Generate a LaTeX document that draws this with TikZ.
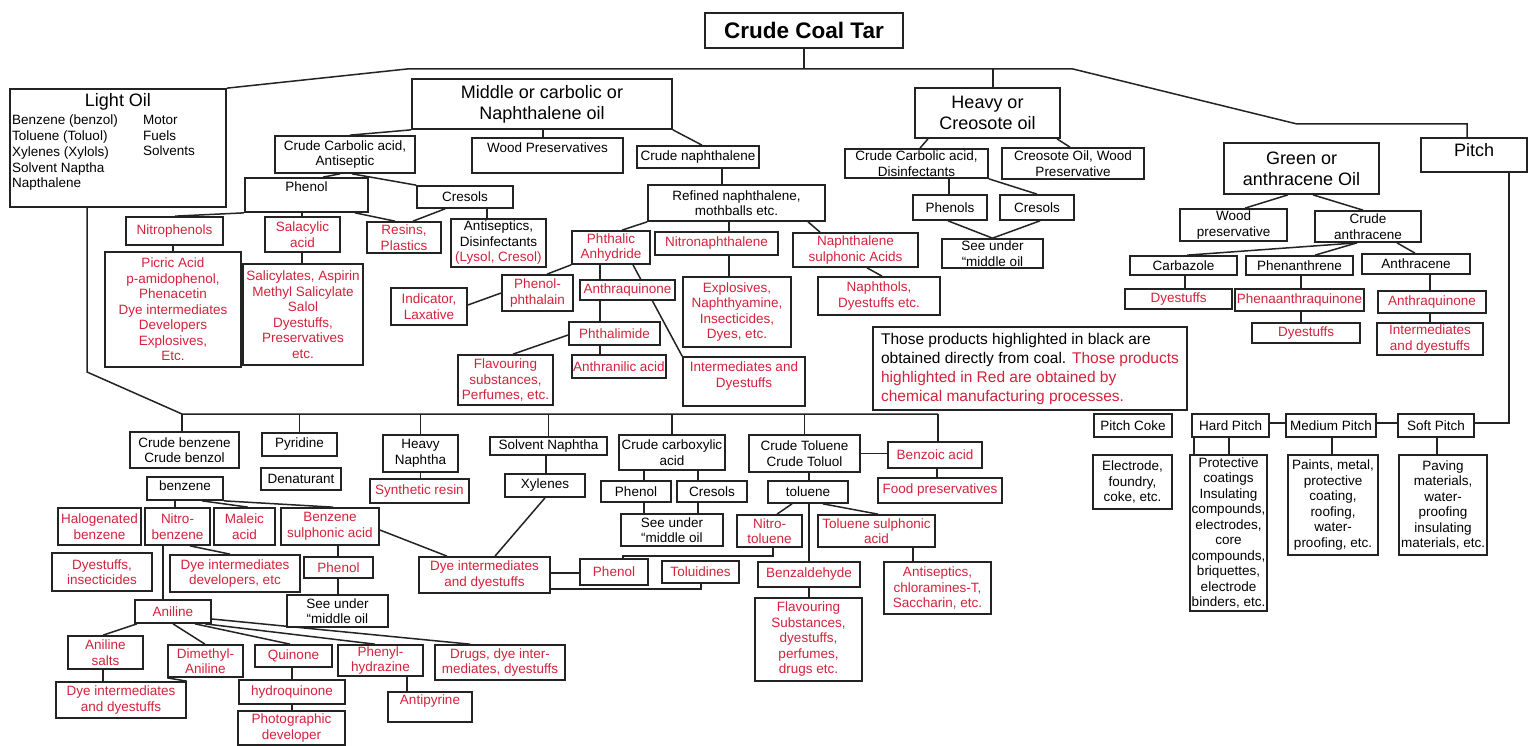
\documentclass[tikz,border=0pt]{standalone}
\usepackage{fontspec}
\setmainfont{Liberation Sans}
\usetikzlibrary{backgrounds}
\definecolor{mred}{RGB}{210,35,60}
\definecolor{ink}{RGB}{35,35,35}
\newcommand\fsz[2]{\fontsize{#1}{#2}\selectfont}
\newcommand\tarbox[7][]{\node[box,#1,minimum width={(#5-#3)*1pt},minimum height={(#6-#4)*1pt}] (#2) at ({(#3+#5)/2},{(#4+#6)/2}) {#7};}
\begin{document}
\begin{tikzpicture}[x=1pt,y=-1pt,
  box/.style={draw=ink,line width=1.7pt,fill=white,inner sep=0.5pt,align=center,font=\fsz{13.5}{15.5}},
  rbox/.style={text=mred},
  big/.style={font=\fsz{18}{21}},
  conn/.style={draw=ink,line width=1.5pt},
  lbl/.style={inner sep=0pt,align=left,font=\fsz{13.5}{15.75}}]
\useasboundingbox (0,0) rectangle (1528,746);

% ---------- top level ----------
\tarbox[font=\fsz{22.5}{26}\bfseries]{cct}{705}{13}{903}{48}{Crude Coal Tar}
\tarbox{light}{10}{89}{226}{207}{}
\node[inner sep=0pt,font=\fsz{18}{21}] (lighttitle) at (118,102) {Light Oil};
\node[lbl,anchor=north west] (lightlist) at (12,115) {Benzene (benzol)\\Toluene (Toluol)\\Xylenes (Xylols)\\Solvent Naptha\\Napthalene};
\node[lbl,anchor=north west] (lightuse) at (143,115) {Motor\\Fuels\\Solvents};
\tarbox[big]{mid}{412}{79}{672}{129}{Middle or carbolic or\\Naphthalene oil}
\tarbox[big]{heavy}{915}{88}{1060}{138}{Heavy or\\Creosote oil}
\tarbox[big]{green}{1224}{143}{1379}{194}{Green or\\anthracene Oil}
\tarbox[big]{pitch}{1421}{138}{1527}{172}{\raisebox{10pt}{Pitch}}

% ---------- middle oil ----------
\tarbox{cca1}{275}{136}{415}{173}{Crude Carbolic acid,\\Antiseptic}
\tarbox{woodp}{472}{138}{623}{173}{\raisebox{15pt}{Wood Preservatives}}
\tarbox{cnaph}{637}{146}{759}{168}{Crude naphthalene}
\tarbox{refn}{648}{185}{825}{221}{Refined naphthalene,\\mothballs etc.}
\tarbox{phenol1}{245}{178}{368}{212}{\raisebox{16pt}{Phenol}}
\tarbox{cresols1}{417}{186}{513}{208}{Cresols}
\tarbox[rbox]{nitroph}{126}{217}{223}{245}{Nitrophenols}
\tarbox[rbox]{salac}{265}{217}{340}{252}{Salacylic\\acid}
\tarbox[rbox]{resins}{367}{222}{441}{253}{Resins,\\Plastics}
\tarbox{antis1}{451}{219}{546}{267}{Antiseptics,\\Disinfectants\\{\color{mred}(Lysol, Cresol)}}
\tarbox[rbox]{picric}{105}{252}{241}{367}{Picric Acid\\p-amidophenol,\\Phenacetin\\Dye intermediates\\Developers\\Explosives,\\Etc.}
\tarbox[rbox]{salicy}{243}{264}{363}{365}{Salicylates, Aspirin\\Methyl Salicylate\\Salol\\Dyestuffs,\\Preservatives\\etc.}
\tarbox[rbox]{indic}{391}{288}{467}{325}{Indicator,\\Laxative}
\tarbox[rbox]{phenph}{502}{275}{573}{311}{Phenol-\\phthalain}
\tarbox[rbox]{phthal}{572}{231}{650}{264}{Phthalic\\Anhydride}
\tarbox[rbox]{nitron}{655}{232}{778}{255}{Nitronaphthalene}
\tarbox[rbox]{naphs}{793}{233}{918}{267}{Naphthalene\\sulphonic Acids}
\tarbox[rbox]{naphth}{818}{277}{940}{315}{Naphthols,\\Dyestuffs etc.}
\tarbox[rbox]{explo}{683}{277}{791}{347}{Explosives,\\Naphthyamine,\\Insecticides,\\Dyes, etc.}
\tarbox[rbox]{anthq1}{580}{280}{675}{300}{Anthraquinone}
\tarbox[rbox]{phthim}{569}{322}{660}{345}{Phthalimide}
\tarbox[rbox]{flav1}{458}{355}{553}{405}{Flavouring\\substances,\\Perfumes, etc.}
\tarbox[rbox]{anthr}{572}{355}{666}{378}{Anthranilic acid}
\tarbox[rbox]{inter1}{683}{357}{805}{406}{Intermediates and\\Dyestuffs\\[-2pt]\mbox{}}

% ---------- heavy oil ----------
\tarbox{cca2}{845}{149}{988}{178}{Crude Carbolic acid,\\Disinfectants}
\tarbox{creo}{1002}{148}{1144}{179}{Creosote Oil, Wood\\Preservative}
\tarbox{phenols2}{913}{195}{987}{220}{Phenols}
\tarbox{cresols2}{1000}{195}{1074}{220}{Cresols}
\tarbox{see1}{942}{239}{1043}{268}{See under\\“middle oil}

% ---------- green oil ----------
\tarbox{woodp2}{1180}{209}{1287}{241}{Wood\\preservative}
\tarbox{cranth}{1315}{211}{1421}{242}{Crude\\anthracene}
\tarbox{carb}{1130}{256}{1237}{275}{Carbazole}
\tarbox{phen}{1246}{256}{1353}{275}{Phenanthrene}
\tarbox{anthc}{1362}{254}{1470}{274}{Anthracene}
\tarbox[rbox]{dye1}{1125}{289}{1232}{309}{Dyestuffs}
\tarbox[rbox]{phenq}{1235}{289}{1364}{311}{Phenaanthraquinone}
\tarbox[rbox]{anthq2}{1378}{291}{1486}{313}{Anthraquinone}
\tarbox[rbox]{dye2}{1252}{323}{1360}{343}{Dyestuffs}
\tarbox[rbox]{inter2}{1377}{323}{1483}{355}{Intermediates\\and dyestuffs}
\tarbox[align=left,font=\fsz{15.5}{19}]{note}{873}{327}{1187}{410}{Those products highlighted in black are\\obtained directly from coal. {\color{mred}Those products}\\{\color{mred}highlighted in Red are obtained by}\\{\color{mred}chemical manufacturing processes.}}

% ---------- pitch ----------
\tarbox{pcoke}{1094}{414}{1172}{437}{Pitch Coke}
\tarbox{hard}{1192}{414}{1269}{437}{Hard Pitch}
\tarbox{medium}{1286}{414}{1376}{437}{Medium Pitch}
\tarbox{soft}{1398}{414}{1474}{437}{Soft Pitch}
\tarbox{elec}{1093}{455}{1172}{509}{Electrode,\\foundry,\\coke, etc.}
\tarbox{prot}{1190}{455}{1267}{611}{Protective\\coatings\\Insulating\\compounds,\\electrodes,\\core\\compounds,\\briquettes,\\electrode\\binders, etc.}
\tarbox{paints}{1288}{455}{1378}{555}{Paints, metal,\\protective\\coating,\\roofing,\\water-\\proofing, etc.}
\tarbox{paving}{1399}{455}{1487}{555}{Paving\\materials,\\water-\\proofing\\insulating\\materials, etc.}

% ---------- light oil products ----------
\tarbox{cbenz}{130}{432}{239}{468}{Crude benzene\\Crude benzol}
\tarbox{pyr}{262}{433}{337}{456}{Pyridine}
\tarbox{denat}{261}{468}{341}{490}{Denaturant}
\tarbox{hnaph}{383}{435}{458}{472}{Heavy\\Naphtha}
\tarbox[rbox]{synr}{370}{479}{469}{503}{Synthetic resin}
\tarbox{benz}{147}{477}{223}{500}{\raisebox{5pt}{benzene}}
\tarbox[rbox]{halo}{58}{508}{141}{545}{Halogenated\\benzene}
\tarbox[rbox]{nitrob}{145}{508}{210}{545}{Nitro-\\benzene}
\tarbox[rbox]{maleic}{214}{508}{275}{545}{Maleic\\acid}
\tarbox[rbox]{bsulph}{281}{508}{379}{545}{Benzene\\sulphonic acid}
\tarbox[rbox]{dyeins}{52}{553}{152}{591}{Dyestuffs,\\insecticides}
\tarbox[rbox]{dyedev}{170}{555}{300}{592}{Dye intermediates\\developers, etc}
\tarbox[rbox]{phenr1}{304}{557}{373}{578}{Phenol}
\tarbox{see3}{287}{595}{388}{627}{See under\\“middle oil}
\tarbox[rbox]{anil}{135}{600}{211}{623}{Aniline}
\tarbox[rbox]{anils}{68}{636}{143}{669}{Aniline\\salts}
\tarbox[rbox]{dimeth}{168}{645}{243}{677}{Dimethyl-\\Aniline}
\tarbox[rbox]{quin}{255}{645}{332}{667}{Quinone}
\tarbox[rbox]{phenyl}{338}{645}{423}{676}{Phenyl-\\hydrazine}
\tarbox[rbox]{drugs}{435}{645}{565}{680}{Drugs, dye inter-\\mediates, dyestuffs}
\tarbox[rbox]{dyeint3}{56}{682}{186}{718}{Dye intermediates\\and dyestuffs}
\tarbox[rbox]{hydq}{239}{680}{345}{704}{hydroquinone}
\tarbox[rbox]{photo}{238}{711}{345}{745}{Photographic\\developer}
\tarbox[rbox]{antip}{388}{692}{472}{722}{\raisebox{14pt}{Antipyrine}}
\tarbox{solvn}{490}{437}{607}{455}{Solvent Naphtha}
\tarbox{xyl}{505}{474}{585}{497}{Xylenes}
\tarbox[rbox]{dyeint2}{419}{557}{550}{593}{Dye intermediates\\and dyestuffs}
\tarbox{ccarbox}{619}{435}{725}{470}{Crude carboxylic\\acid}
\tarbox{phenol3}{601}{481}{671}{502}{Phenol}
\tarbox{cresols3}{677}{481}{747}{502}{Cresols}
\tarbox{see2}{621}{514}{723}{546}{See under\\“middle oil}
\tarbox{ctol}{749}{435}{860}{472}{Crude Toluene\\Crude Toluol}
\tarbox[rbox]{benzoic}{888}{442}{982}{468}{Benzoic acid}
\tarbox[rbox]{foodp}{878}{478}{1002}{503}{Food preservatives}
\tarbox{tol}{768}{481}{848}{503}{toluene}
\tarbox[rbox]{nitrot}{737}{515}{802}{547}{Nitro-\\toluene}
\tarbox[rbox]{tolsul}{818}{515}{935}{547}{Toluene sulphonic\\acid}
\tarbox[rbox]{benzal}{758}{562}{860}{587}{Benzaldehyde}
\tarbox[rbox]{flav2}{755}{598}{862}{681}{Flavouring\\Substances,\\dyestuffs,\\perfumes,\\drugs etc.}
\tarbox[rbox]{antis2}{884}{562}{991}{614}{Antiseptics,\\chloramines-T,\\Saccharin, etc.}
\tarbox[rbox]{phenr2}{580}{559}{648}{585}{Phenol}
\tarbox[rbox]{tolu}{662}{561}{739}{583}{Toluidines}

% ---------- connectors ----------
\begin{scope}[on background layer]
\fill[white] (0,0) rectangle (1528,746);
\coordinate (tl) at (407,69);
\coordinate (tr) at (1073,69);
\coordinate (tp1) at (1297,124);
\coordinate (tp2) at (1467,124);
\draw[conn] (light.north east) -- (tl) -- (tr) -- (tp1) -- (tp2) -- (pitch.north -| tp2);
\draw[conn] (cct.south) -- (cct.south |- tl);
\draw[conn] (heavy.north -| 993,0) -- (993,69 |- tl);
% middle oil
\draw[conn] (mid.south west) -- (cca1.north -| 350,0);
\draw[conn] (mid.south -| 543,0) -- (woodp.north -| 543,0);
\draw[conn] (mid.south east) -- (cnaph.north -| 702,0);
\draw[conn] (cnaph.south -| 722,0) -- (refn.north -| 722,0);
\draw[conn] (cca1.south -| 340,0) -- (phenol1.north -| 323,0);
\draw[conn] (cca1.south -| 352,0) -- (cresols1.north west);
\draw[conn] (phenol1.south west) -- (nitroph.north -| 175,0);
\draw[conn] (phenol1.south -| 302,0) -- (salac.north -| 302,0);
\draw[conn] (phenol1.south -| 355,0) -- (resins.north -| 395,0);
\draw[conn] (cresols1.south -| 445,0) -- (resins.north -| 413,0);
\draw[conn] (cresols1.south -| 487,0) -- (antis1.north -| 487,0);
\draw[conn] (nitroph.south -| 173,0) -- (picric.north -| 173,0);
\draw[conn] (salac.south -| 302,0) -- (salicy.north -| 302,0);
\draw[conn] (refn.south west) -- (phthal.north -| 622,0);
\draw[conn] (refn.south -| 729,0) -- (nitron.north -| 729,0);
\draw[conn] (refn.south -| 808,0) -- (naphs.north -| 820,0);
\draw[conn] (naphs.south -| 867,0) -- (naphth.north -| 882,0);
\draw[conn] (nitron.south -| 729,0) -- (explo.north -| 729,0);
\draw[conn] (phthal.south -| 600,0) -- (anthq1.north -| 600,0);
\draw[conn] (anthq1.south -| 600,0) -- (phthim.north -| 600,0);
\draw[conn] (phthim.south -| 600,0) -- (anthr.north -| 600,0);
\draw[conn] (phthal.south west) -- (phenph.north -| 547,0);
\draw[conn] (indic.east |- 0,305) -- (phenph.west |- 0,293);
\draw[conn] (phthal.south -| 633,0) -- (inter1.north west);
\draw[conn] (phthim.west |- 0,335) -- (flav1.north -| 513,0);
% heavy oil
\draw[conn] (heavy.south -| 928,0) -- (cca2.north -| 920,0);
\draw[conn] (heavy.south -| 1057,0) -- (creo.north -| 1070,0);
\draw[conn] (cca2.south -| 949,0) -- (phenols2.north -| 949,0);
\draw[conn] (cca2.south east) -- (cresols2.north -| 1037,0);
\draw[conn] (phenols2.south -| 948,0) -- (see1.north);
\draw[conn] (cresols2.south -| 1040,0) -- (see1.north);
% green oil
\draw[conn] (green.south -| 1288,0) -- (woodp2.north -| 1245,0);
\draw[conn] (green.south -| 1313,0) -- (cranth.north -| 1363,0);
\draw[conn] (cranth.south -| 1357,0) -- (carb.north -| 1187,0);
\draw[conn] (cranth.south -| 1357,0) -- (phen.north -| 1315,0);
\draw[conn] (cranth.south -| 1397,0) -- (anthc.north -| 1415,0);
\draw[conn] (carb.south -| 1185,0) -- (dye1.north -| 1185,0);
\draw[conn] (phen.south -| 1301,0) -- (phenq.north -| 1301,0);
\draw[conn] (phenq.south -| 1301,0) -- (dye2.north -| 1301,0);
\draw[conn] (anthc.south -| 1430,0) -- (anthq2.north -| 1430,0);
\draw[conn] (anthq2.south -| 1430,0) -- (inter2.north -| 1430,0);
% pitch
\coordinate (pc) at (1509,423);
\draw[conn] (pitch.south -| pc) -- (pc) -- (soft.east |- pc);
\draw[conn] (soft.west |- pc) -- (medium.east |- pc);
\draw[conn] (medium.west |- pc) -- (hard.east |- pc);
\draw[conn] (hard.south -| 1194,0) -- (prot.north -| 1194,0);
\draw[conn] (hard.south -| 1229,0) -- (prot.north -| 1229,0);
\draw[conn] (medium.south -| 1332,0) -- (paints.north -| 1332,0);
\draw[conn] (soft.south -| 1437,0) -- (paving.north -| 1437,0);
% light oil bus
\coordinate (lb1) at (87,372);
\coordinate (lb2) at (182,414);
\coordinate (lb3) at (938,414);
\draw[conn] (light.south -| lb1) -- (lb1) -- (lb2) -- (lb3);
\draw[conn] (lb2) -- (cbenz.north -| lb2);
\draw[conn] (pyr.north |- lb2) -- (pyr.north);
\draw[conn] (hnaph.north |- lb2) -- (hnaph.north);
\draw[conn] (solvn.north |- lb2) -- (solvn.north);
\draw[conn] (ccarbox.north |- lb2) -- (ccarbox.north);
\draw[conn] (ctol.north |- lb2) -- (ctol.north);
\draw[conn] (lb3) -- (benzoic.north -| lb3);
\draw[conn] (hnaph.south) -- (synr.north -| hnaph.south);
\draw[conn] (benz.south -| 175,0) -- (nitrob.north -| 175,0);
\draw[conn] (benz.south -| 202,0) -- (maleic.north -| 248,0);
\draw[conn] (benz.south east) -- (bsulph.north -| 333,0);
\draw[conn] (nitrob.south -| 190,0) -- (dyedev.north -| 230,0);
\draw[conn] (nitrob.south -| 163,0) -- (anil.north -| 163,0);
\draw[conn] (bsulph.south -| 338,0) -- (phenr1.north -| 338,0);
\draw[conn] (phenr1.south -| 338,0) -- (see3.north -| 338,0);
\draw[conn] (bsulph.east |- 0,530) -- (dyeint2.north -| 447,0);
\draw[conn] (xyl.south -| 545,0) -- (dyeint2.north -| 495,0);
\draw[conn] (anil.south -| 137,0) -- (anils.north -| 103,0);
\draw[conn] (anils.south -| 103,0) -- (dyeint3.north -| 103,0);
\draw[conn] (anil.south -| 173,0) -- (dimeth.north -| 205,0);
\draw[conn] (anil.south -| 195,0) -- (quin.north -| 290,0);
\draw[conn] (anil.south -| 205,0) -- (phenyl.north -| 375,0);
\draw[conn] (anil.east |- 0,619) -- (drugs.north -| 470,0);
\draw[conn] (dimeth.south west) -- (dyeint3.north east);
\draw[conn] (quin.south -| 292,0) -- (hydq.north -| 292,0);
\draw[conn] (hydq.south -| 292,0) -- (photo.north -| 292,0);
\draw[conn] (phenyl.south -| 407,0) -- (antip.north -| 407,0);
\draw[conn] (solvn.south -| 546,0) -- (xyl.north -| 546,0);
\draw[conn] (ccarbox.south -| 644,0) -- (phenol3.north -| 644,0);
\draw[conn] (ccarbox.south -| 698,0) -- (cresols3.north -| 698,0);
\draw[conn] (phenol3.south -| 644,0) -- (see2.north -| 644,0);
\draw[conn] (cresols3.south -| 698,0) -- (see2.north -| 698,0);
\draw[conn] (ctol.east) -- (benzoic.west |- ctol.east);
\draw[conn] (benzoic.south -| 937,0) -- (foodp.north -| 937,0);
\draw[conn] (ctol.south -| 809,0) -- (tol.north -| 809,0);
\draw[conn] (tol.south -| 792,0) -- (nitrot.north -| 777,0);
\draw[conn] (tol.south -| 823,0) -- (tolsul.north -| 878,0);
\draw[conn] (tol.south -| 809,0) -- (benzal.north -| 809,0);
\draw[conn] (benzal.south -| 809,0) -- (flav2.north -| 809,0);
\draw[conn] (tolsul.south -| 913,0) -- (antis2.north -| 913,0);
\coordinate (nt1) at (773,556);
\coordinate (nt2) at (623,556);
\draw[conn] (nitrot.south -| nt1) -- (nt1) -- (nt2) -- (phenr2.north -| nt2);
\coordinate (tu1) at (701,589);
\draw[conn] (tolu.south -| tu1) -- (tu1) -- (dyeint2.east |- tu1);
\draw[conn] (dyeint2.east |- 0,573) -- (phenr2.west |- 0,573);
\end{scope}
\end{tikzpicture}
\end{document}
